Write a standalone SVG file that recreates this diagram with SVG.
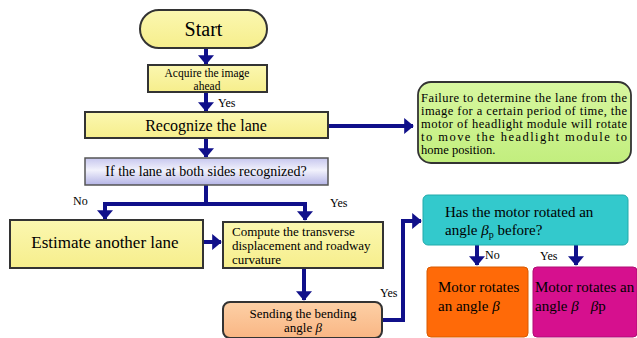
<svg xmlns="http://www.w3.org/2000/svg" width="637" height="338" viewBox="0 0 637 338" font-family="'Liberation Serif', 'DejaVu Serif', 'Times New Roman', serif">
<style>
  text { font-family: 'Liberation Serif', 'DejaVu Serif', 'Times New Roman', serif; fill: #000; }
  .box { stroke: #333; stroke-width: 2; }
  .yel { fill: url(#gY); }
  .conn { stroke: #10108a; stroke-width: 4; fill: none; }
  .lbl { font-size: 12px; }
</style>
<defs>
  <linearGradient id="gY" x1="0" y1="0" x2="0" y2="1">
    <stop offset="0" stop-color="#fbf7b0"/>
    <stop offset="1" stop-color="#f6ee8c"/>
  </linearGradient>
  <linearGradient id="gL" x1="0" y1="0" x2="0" y2="1">
    <stop offset="0" stop-color="#c6c6ee"/>
    <stop offset="0.45" stop-color="#f2f2fc"/>
    <stop offset="1" stop-color="#b4b4e6"/>
  </linearGradient>
  <linearGradient id="gG" x1="0" y1="0" x2="0" y2="1">
    <stop offset="0" stop-color="#d8f7a0"/>
    <stop offset="1" stop-color="#c2ee7e"/>
  </linearGradient>
  <linearGradient id="gO" x1="0" y1="0" x2="0" y2="1">
    <stop offset="0" stop-color="#fdd0a6"/>
    <stop offset="1" stop-color="#f9b684"/>
  </linearGradient>
  <marker id="ah" markerWidth="4" markerHeight="4" refX="2.2" refY="2" orient="auto" markerUnits="strokeWidth">
    <path d="M0,0 L2.4,2 L0,4 Z" fill="#10108a"/>
  </marker>
</defs>

<g id="connectors">
  <line class="conn" x1="206" y1="48" x2="206" y2="64" marker-end="url(#ah)"/>
  <line class="conn" x1="206" y1="92" x2="206" y2="111" marker-end="url(#ah)"/>
  <line class="conn" x1="328" y1="126" x2="413" y2="126" marker-end="url(#ah)"/>
  <line class="conn" x1="206" y1="138" x2="206" y2="157" marker-end="url(#ah)"/>
  <polyline class="conn" points="206,185 206,204"/>
  <polyline class="conn" points="105,206 105,204 305,204 305,206"/>
  <line class="conn" x1="105" y1="204" x2="105" y2="219" marker-end="url(#ah)"/>
  <line class="conn" x1="305" y1="204" x2="305" y2="220" marker-end="url(#ah)"/>
  <line class="conn" x1="203" y1="242" x2="221" y2="242" marker-end="url(#ah)"/>
  <line class="conn" x1="304" y1="268" x2="304" y2="300" marker-end="url(#ah)"/>
  <polyline class="conn" points="382,320 403,320 403,221 421,221" marker-end="url(#ah)"/>
  <line class="conn" x1="477" y1="245" x2="477" y2="265" marker-end="url(#ah)"/>
  <line class="conn" x1="576" y1="245" x2="576" y2="265" marker-end="url(#ah)"/>
  <text class="lbl" x="218" y="107">Yes</text>
  <text class="lbl" x="73" y="205">No</text>
  <text class="lbl" x="330" y="207">Yes</text>
  <text class="lbl" x="380" y="297">Yes</text>
  <text class="lbl" x="485" y="259">No</text>
  <text class="lbl" x="540" y="260">Yes</text>
</g>

<g id="start">
  <rect class="box yel" x="140" y="10" width="127" height="38" rx="19"/>
  <text x="203.5" y="36" font-size="20" text-anchor="middle">Start</text>
</g>

<g id="acquire">
  <rect class="box yel" x="148" y="65" width="119" height="27"/>
  <text x="207" y="76.5" font-size="11.5" text-anchor="middle">Acquire the image</text>
  <text x="207" y="89.5" font-size="11.5" text-anchor="middle">ahead</text>
</g>

<g id="recognize">
  <rect class="box yel" x="85" y="112" width="243" height="26"/>
  <text x="206" y="131" font-size="16" text-anchor="middle">Recognize the lane</text>
</g>

<g id="failure">
  <rect x="418" y="82" width="213" height="81" rx="13" fill="url(#gG)" stroke="#333" stroke-width="1.8"/>
  <text font-size="12.5">
    <tspan x="421" y="102" textLength="206" lengthAdjust="spacing">Failure to determine the lane from the</tspan>
    <tspan x="421" y="115" textLength="206" lengthAdjust="spacing">image for a certain period of time, the</tspan>
    <tspan x="421" y="128" textLength="206" lengthAdjust="spacing">motor of headlight module will rotate</tspan>
    <tspan x="421" y="141" textLength="206" lengthAdjust="spacing">to move the headlight module to</tspan>
    <tspan x="421" y="154">home position.</tspan>
  </text>
</g>

<g id="decision">
  <rect x="85" y="158" width="243" height="27" fill="url(#gL)" stroke="#555" stroke-width="1.5"/>
  <text x="206" y="176" font-size="14" text-anchor="middle">If the lane at both sides recognized?</text>
</g>

<g id="estimate">
  <rect class="box yel" x="10" y="220" width="193" height="48"/>
  <text x="105" y="248" font-size="17" text-anchor="middle">Estimate another lane</text>
</g>

<g id="compute">
  <rect class="box yel" x="223" y="222" width="160" height="46"/>
  <text font-size="13">
    <tspan x="232" y="236">Compute the transverse</tspan>
    <tspan x="232" y="250">displacement and roadway</tspan>
    <tspan x="232" y="264">curvature</tspan>
  </text>
</g>

<g id="sending">
  <rect x="223" y="302" width="159" height="36" rx="7" fill="url(#gO)" stroke="#333" stroke-width="2"/>
  <text x="303" y="318" font-size="13" text-anchor="middle">Sending the bending</text>
  <text x="303" y="332" font-size="13" text-anchor="middle">angle <tspan font-style="italic">β</tspan></text>
</g>

<g id="hasrotated">
  <rect x="423" y="195" width="205" height="50" rx="5" fill="#33c9cc" stroke="#2aa" stroke-width="1"/>
  <text x="445" y="217" font-size="15">Has the motor rotated an</text>
  <text x="445" y="235" font-size="15">angle <tspan font-style="italic">β</tspan><tspan font-size="10" dy="3">p</tspan><tspan dy="-3"> before?</tspan></text>
</g>

<g id="motor1">
  <rect x="427" y="267" width="101" height="70" rx="4" fill="#ff6a08" stroke="#d85a00" stroke-width="1"/>
  <text x="438" y="292" font-size="15">Motor rotates</text>
  <text x="438" y="311" font-size="15">an angle <tspan font-style="italic">β</tspan></text>
</g>

<g id="motor2">
  <rect x="533" y="267" width="104" height="70" rx="4" fill="#d6108e" stroke="#b00c75" stroke-width="1"/>
  <text x="535" y="292" font-size="15">Motor rotates an</text>
  <text x="535" y="311" font-size="15">angle <tspan font-style="italic">β</tspan><tspan dx="12" font-style="italic">β</tspan>p</text>
</g>
</svg>
